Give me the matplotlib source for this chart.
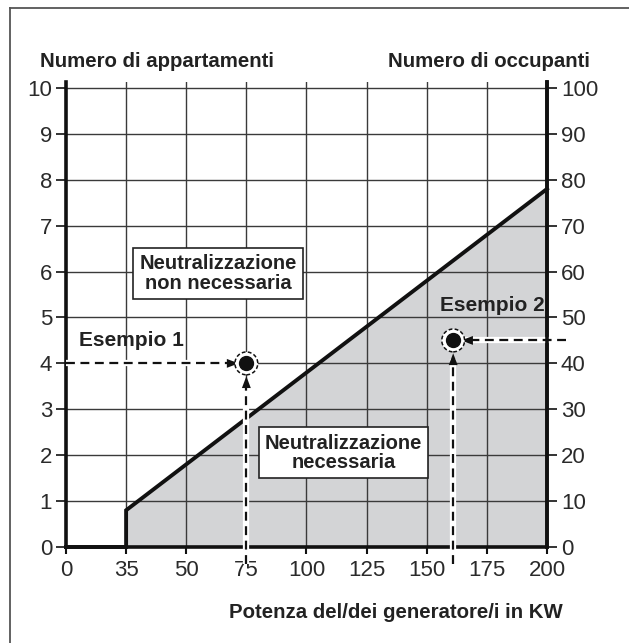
import numpy as np
import matplotlib.pyplot as plt

# x axis: tick values are evenly spaced on the page, not proportional
kw_ticks = [0, 35, 50, 75, 100, 125, 150, 175, 200]
apt_ticks = list(range(0, 11))
occ_ticks = list(range(0, 101, 10))

# boundary between the two regions (kW, apartments)
limit_kw = [0, 35, 35, 200]
limit_apt = [0, 0, 0.8, 7.8]

ex1_kw, ex1_apt = 75, 4.0
ex2_kw, ex2_apt = 161, 4.5

_kw_ext = np.array([-25] + kw_ticks + [225], dtype=float)
_pos_ext = np.arange(-1, len(kw_ticks) + 1, dtype=float)


def fwd(x):
    return np.interp(x, _kw_ext, _pos_ext)


def inv(p):
    return np.interp(p, _pos_ext, _kw_ext)


plt.rcParams["font.family"] = ["Liberation Sans", "DejaVu Sans"]
BOLD = dict(fontweight="bold", family=["Liberation Sans", "DejaVu Sans"])

fig = plt.figure(figsize=(6.29, 6.43), dpi=100, facecolor="white")
ax = fig.add_axes([0.1049, 0.1493, 0.7647, 0.7232])
ax.set_xscale("function", functions=(fwd, inv))
ax.set_xlim(0, 200)
ax.set_ylim(0, 10.13)
ax.set_xticks(kw_ticks)
ax.set_yticks(apt_ticks)

grid_c = "#3a3a3a"
for v in kw_ticks[1:-1]:
    ax.axvline(v, color=grid_c, lw=1.0, zorder=1)
for v in apt_ticks[1:]:
    ax.axhline(v, color=grid_c, lw=1.0, zorder=1)

# shaded region under the limit line
ax.fill(limit_kw[1:] + [200], limit_apt[1:] + [0], color="#d3d4d6", zorder=0.5, lw=0)
ax.plot(limit_kw, limit_apt, color="#111111", lw=2.8, zorder=3,
        solid_joinstyle="miter", clip_on=False)

for s in ("left", "right", "bottom"):
    ax.spines[s].set_linewidth(2.6)
    ax.spines[s].set_color("#111111")
ax.spines["top"].set_visible(False)

ax.tick_params(axis="y", direction="out", length=7, width=1.2, pad=3,
               labelsize=16, color="#111111", labelcolor="#2a2a2a")
ax.tick_params(axis="x", direction="out", length=5, width=1.5, pad=4,
               labelsize=16, color="#111111", labelcolor="#2a2a2a")

ax2 = ax.twinx()
ax2.set_ylim(0, 101.3)
ax2.set_yticks(occ_ticks)
ax2.spines["top"].set_visible(False)
ax2.spines["left"].set_visible(False)
ax2.spines["bottom"].set_visible(False)
ax2.spines["right"].set_linewidth(2.6)
ax2.spines["right"].set_color("#111111")
ax2.tick_params(axis="y", direction="out", length=7, width=1.2, pad=3,
                labelsize=16, color="#111111", labelcolor="#2a2a2a")


def dashed(xs, ys):
    ax.plot(xs, ys, color="white", lw=4.5, zorder=4, clip_on=False,
            solid_capstyle="butt")
    ax.plot(xs, ys, color="#111111", lw=1.6, ls=(0, (4, 2.5)), zorder=5,
            clip_on=False)


def head(x0, y0, x1, y1):
    ax.annotate("", xy=(x1, y1), xytext=(x0, y0), zorder=6,
                arrowprops=dict(arrowstyle="-|>,head_length=0.85,head_width=0.32",
                                color="#111111", lw=0, shrinkA=0, shrinkB=0))


def point(x, y):
    ax.scatter([x], [y], s=270, facecolor="white", edgecolor="#111111",
               linewidths=1.1, linestyle=(0, (2.5, 1.5)), zorder=7)
    ax.scatter([x], [y], s=100, color="#111111", zorder=8)


# Example 1
dashed([0, 71], [ex1_apt, ex1_apt])
head(69, ex1_apt, 71.8, ex1_apt)
dashed([ex1_kw, ex1_kw], [-0.38, 3.6])
head(ex1_kw, 3.45, ex1_kw, 3.72)
point(ex1_kw, ex1_apt)

# Example 2
dashed([208, 165], [ex2_apt, ex2_apt])
head(166.5, ex2_apt, 164.3, ex2_apt)
dashed([ex2_kw, ex2_kw], [-0.38, 4.1])
head(ex2_kw, 3.95, ex2_kw, 4.22)
point(ex2_kw, ex2_apt)

ax.text(36.4, 4.49, "Esempio 1", ha="center", va="center", fontsize=15,
        color="#222222", zorder=9, **BOLD)
ax.text(177.3, 5.27, "Esempio 2", ha="center", va="center", fontsize=15,
        color="#222222", zorder=9, **BOLD)

box = dict(boxstyle="square,pad=0.3", facecolor="white", edgecolor="#222222", lw=1.2)
ax.text(63.3, 5.95, "Neutralizzazione\nnon necessaria", ha="center", va="center",
        fontsize=14.5, linespacing=1.05, color="#222222", bbox=box, zorder=9, **BOLD)
ax.text(115.5, 2.05, "Neutralizzazione\nnecessaria", ha="center", va="center",
        fontsize=14.5, linespacing=1.05, color="#222222", bbox=box, zorder=9, **BOLD)

fig.text(0.0636, 0.9036, "Numero di appartamenti", ha="left", va="center",
         fontsize=14.7, color="#222222", **BOLD)
fig.text(0.938, 0.9036, "Numero di occupanti", ha="right", va="center",
         fontsize=14.7, color="#222222", **BOLD)
fig.text(0.895, 0.0467, "Potenza del/dei generatore/i in KW", ha="right",
         va="center", fontsize=14.7, color="#222222", **BOLD)

# page frame (top and left edges)
fig.add_artist(plt.Line2D([10 / 629, 1], [1 - 8 / 643] * 2, color="#555555", lw=1.3))
fig.add_artist(plt.Line2D([10 / 629] * 2, [0, 1 - 8 / 643], color="#555555", lw=1.3))

fig.savefig("out.png", dpi=100, facecolor="white")
